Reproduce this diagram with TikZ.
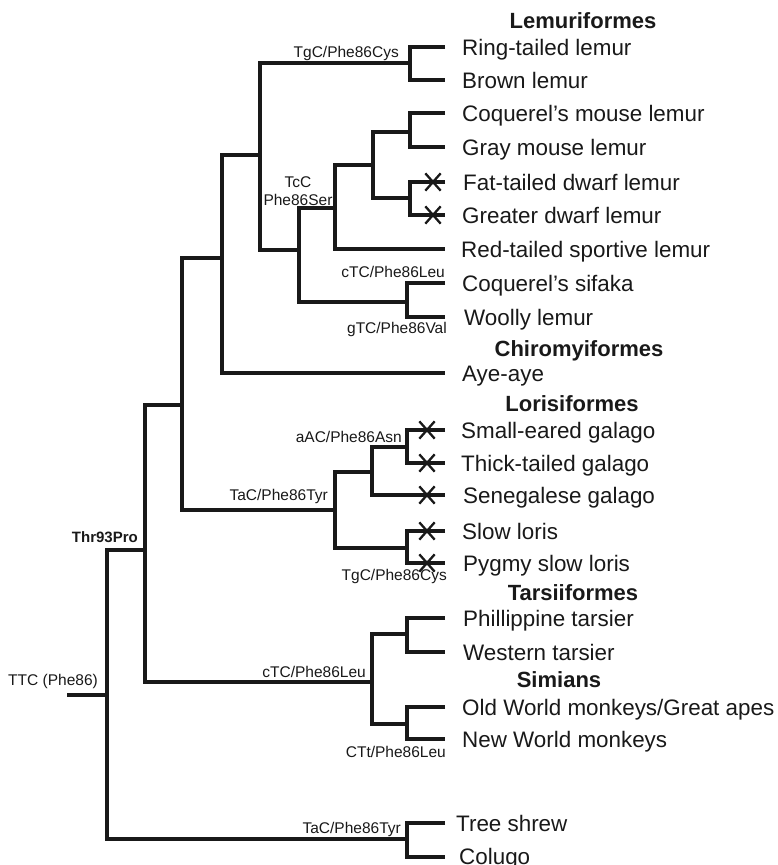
\documentclass[tikz,border=0pt]{standalone}
\usepackage{fontspec}
\setmainfont{Liberation Sans}
\usetikzlibrary{shapes.misc}
\begin{document}
\begin{tikzpicture}[x=1pt,y=-1pt,
  br/.style={line width=3.3pt, line join=miter, line cap=butt, draw=black!90},
  leaf/.style={anchor=west, inner sep=0pt, text height=16pt, text depth=0pt, font=\fontsize{22.4}{24}\selectfont, text=black!90},
  clade/.style={anchor=base, inner sep=0pt, font=\fontsize{22}{24}\selectfont\bfseries, text=black!90},
  mut/.style={anchor=base east, inner sep=0pt, font=\fontsize{15.5}{18}\selectfont, text=black!90},
  extinct/.style={draw=black!90, cross out, line width=2.3pt, minimum width=13pt, minimum height=15pt, inner sep=0pt}]
\useasboundingbox[fill=white] (0,0) rectangle (777,865);

% tips
\foreach \n/\y in {t1/47,t2/80,t3/113,t4/147,t5/182,t6/215,t7/249,t8/283,t9/317,t10/373,
  t11/430,t12/463,t13/495,t14/531,t15/563,t16/618,t17/652,t18/707,t19/739,t20/823,t21/857}
  \coordinate (\n) at (445,\y);

% internal nodes (x, attachment y)
\coordinate (root0) at (67,695);
\coordinate (R) at (107,695);
\coordinate (P) at (145,550);
\coordinate (S) at (182,405);
\coordinate (LC) at (222,258);
\coordinate (L) at (260,155);
\coordinate (Lem) at (410,63);
\coordinate (A) at (299,250);
\coordinate (B) at (335,208);
\coordinate (C) at (373,165);
\coordinate (Mou) at (410,132);
\coordinate (Dw) at (410,198);
\coordinate (Ind) at (407,302);
\coordinate (Lo) at (335,510);
\coordinate (G) at (372,472);
\coordinate (G2) at (407,447);
\coordinate (Lor) at (407,548);
\coordinate (H) at (372,682);
\coordinate (Tar) at (407,634);
\coordinate (Sim) at (407,724);
\coordinate (TC) at (407,839);

% branches
\draw[br] (root0) -- (R);
\draw[br] (P) -| (R) |- (TC);
\draw[br] (S) -| (P) |- (H);
\draw[br] (LC) -| (S) |- (Lo);
\draw[br] (L) -| (LC) |- (t10);
\draw[br] (Lem) -| (L) |- (A);
\draw[br] (t1) -| (Lem) |- (t2);
\draw[br] (B) -| (A) |- (Ind);
\draw[br] (C) -| (B) |- (t7);
\draw[br] (Mou) -| (C) |- (Dw);
\draw[br] (t3) -| (Mou) |- (t4);
\draw[br] (t5) -| (Dw) |- (t6);
\draw[br] (t8) -| (Ind) |- (t9);
\draw[br] (G) -| (Lo) |- (Lor);
\draw[br] (G2) -| (G) |- (t13);
\draw[br] (t11) -| (G2) |- (t12);
\draw[br] (t14) -| (Lor) |- (t15);
\draw[br] (Tar) -| (H) |- (Sim);
\draw[br] (t16) -| (Tar) |- (t17);
\draw[br] (t18) -| (Sim) |- (t19);
\draw[br] (t20) -| (TC) |- (t21);

% extinct marks
\node[extinct] (x5) at (433,182) {};
\node[extinct] (x6) at (433,215) {};
\node[extinct] (x11) at (427,430) {};
\node[extinct] (x12) at (427,463) {};
\node[extinct] (x13) at (427,495) {};
\node[extinct] (x14) at (427,531) {};
\node[extinct] (x15) at (427,563) {};

% leaf labels
\node[leaf] (l1) at (462,47) {Ring-tailed lemur};
\node[leaf] (l2) at (462,80) {Brown lemur};
\node[leaf] (l3) at (462,113) {Coquerel’s mouse lemur};
\node[leaf] (l4) at (462,147) {Gray mouse lemur};
\node[leaf] (l5) at (463,182) {Fat-tailed dwarf lemur};
\node[leaf] (l6) at (462,215) {Greater dwarf lemur};
\node[leaf] (l7) at (461,249) {Red-tailed sportive lemur};
\node[leaf] (l8) at (462,283) {Coquerel’s sifaka};
\node[leaf] (l9) at (464,317) {Woolly lemur};
\node[leaf] (l10) at (462,373) {Aye-aye};
\node[leaf] (l11) at (461,430) {Small-eared galago};
\node[leaf] (l12) at (461,463) {Thick-tailed galago};
\node[leaf] (l13) at (463,495) {Senegalese galago};
\node[leaf] (l14) at (462,531) {Slow loris};
\node[leaf] (l15) at (463,563) {Pygmy slow loris};
\node[leaf] (l16) at (463,618) {Phillippine tarsier};
\node[leaf] (l17) at (463,652) {Western tarsier};
\node[leaf] (l18) at (462,707) {Old World monkeys/Great apes};
\node[leaf] (l19) at (462,739) {New World monkeys};
\node[leaf] (l20) at (456,823) {Tree shrew};
\node[leaf] (l21) at (459,856) {Colugo};

% clade headers
\node[clade] (hLem) at (583,28) {Lemuriformes};
\node[clade] (hChi) at (579,356) {Chiromyiformes};
\node[clade] (hLor) at (572,411) {Lorisiformes};
\node[clade] (hTar) at (573,600) {Tarsiiformes};
\node[clade] (hSim) at (559,687) {Simians};

% mutation labels
\node[mut] (m1) at (399,57) {TgC/Phe86Cys};
\node[mut, anchor=base] (m2a) at (298,187) {TcC};
\node[mut, anchor=base] (m2b) at (298,205) {Phe86Ser};
\node[mut] (m3) at (445,277) {cTC/Phe86Leu};
\node[mut] (m4) at (447,333) {gTC/Phe86Val};
\node[mut] (m5) at (402,442) {aAC/Phe86Asn};
\node[mut] (m6) at (328,500) {TaC/Phe86Tyr};
\node[mut] (m7) at (447,580) {TgC/Phe86Cys};
\node[mut, font=\fontsize{15}{18}\selectfont\bfseries] (m8) at (138,542) {Thr93Pro};
\node[mut] (m9) at (366,677) {cTC/Phe86Leu};
\node[mut] (m10) at (446,757) {CTt/Phe86Leu};
\node[mut] (m11) at (401,833) {TaC/Phe86Tyr};
\node[mut] (m12) at (98,685) {TTC (Phe86)};
\end{tikzpicture}
\end{document}
